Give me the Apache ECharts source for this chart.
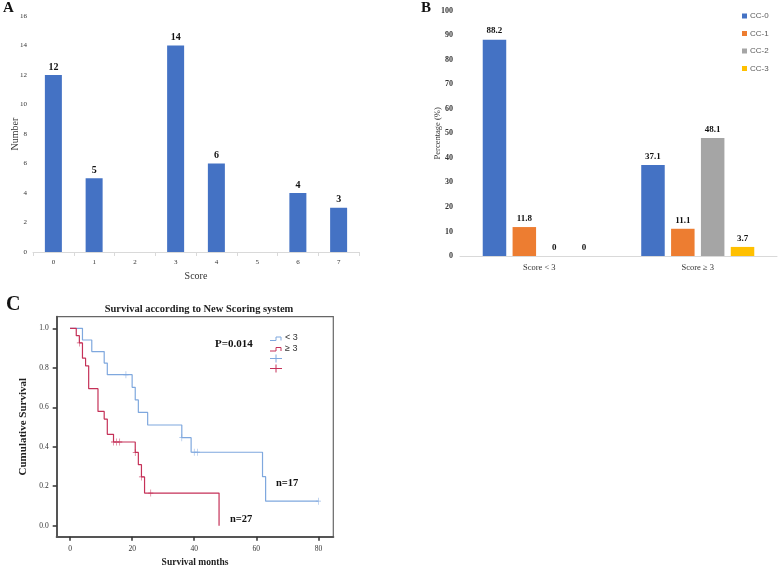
<!DOCTYPE html>
<html><head><meta charset="utf-8">
<script src="https://cdn.jsdelivr.net/npm/echarts@6/dist/echarts.min.js"></script>
<style>html,body{margin:0;padding:0;background:#fff}#c{width:778px;height:569px}</style>
</head><body><div id="c"></div>
<script>
// Panel A
var scoreCats = ['0','1','2','3','4','5','6','7'];
var scoreCounts = [12,5,0,14,6,0,4,3];
var aYTicks = [0,2,4,6,8,10,12,14,16];
// Panel B
var groupCats = ['Score < 3','Score \u2265 3'];
var cc0 = [88.2,37.1];
var cc1 = [11.8,11.1];
var cc2 = [0,48.1];
var cc3 = [0,3.7];
var ccNames = ['CC-0','CC-1','CC-2','CC-3'];
// Panel C (Kaplan-Meier)
var lowTimes = [0,4,7,11,12,20,21,22,25,36,39,62,63,80];
var lowSurv  = [1,0.941,0.882,0.824,0.765,0.701,0.637,0.574,0.510,0.446,0.372,0.248,0.124,0.124];
var lowCensT = [18,36,40,41,80];
var lowCensS = [0.765,0.446,0.372,0.372,0.124];
var highTimes = [0,2,3,4,5,6,9,11,12,14,21,22,23,24,48];
var highSurv  = [1,0.963,0.926,0.849,0.810,0.694,0.579,0.540,0.463,0.424,0.371,0.309,0.247,0.165,0];
var highCensT = [3,14,15,16,21,23,26];
var highCensS = [0.926,0.424,0.424,0.424,0.371,0.247,0.165];
var cXTicks = [0,20,40,60,80];
var cYTicks = [0,0.2,0.4,0.6,0.8,1.0];

function zip(a,b){return a.map(function(v,i){return [v,b[i]];});}
var serif = 'Liberation Serif';
var blueC = '#7fa8de', redC = '#c53158';
var plusPath = 'path://M-0.12,-1 L0.12,-1 L0.12,1 L-0.12,1 Z M-1,-0.12 L1,-0.12 L1,0.12 L-1,0.12 Z';

var chart = echarts.init(document.getElementById('c'));
var barColors = ['#4472C4','#ED7D31','#A5A5A5','#FFC000'];
var bSeries = [cc0,cc1,cc2,cc3].map(function(d,i){
  return {name: ccNames[i], type:'bar', xAxisIndex:1, yAxisIndex:1, data:d,
    barWidth:23.5, barGap:'27%', itemStyle:{color:barColors[i]},
    label:{show:true, position:'top', distance:4, fontFamily:serif, fontWeight:'bold', fontSize:9, color:'#111'}};
});

chart.setOption({
  animation:false,
  backgroundColor:'#fff',
  textStyle:{fontFamily:serif},
  grid:[
    {left:33, top:16, width:326, height:236},
    {left:460, top:10.7, width:317, height:245.3},
    {left:56.7, top:316.7, width:276.6, height:220, show:true, borderColor:'#666', borderWidth:1.2, backgroundColor:'transparent'}
  ],
  title:{text:'Survival according to New Scoring system', left:194, top:299, textAlign:'center',
    textStyle:{fontFamily:serif, fontWeight:'bold', fontSize:10.5, color:'#222'}},
  legend:{data:ccNames, orient:'vertical', left:737, top:7, itemWidth:5, itemHeight:5, itemGap:9.5, icon:'rect',
    textStyle:{fontFamily:'Liberation Sans', fontSize:8, color:'#595959', padding:[0,0,0,-2]}},
  xAxis:[
    {type:'category', gridIndex:0, data:scoreCats,
      axisLine:{lineStyle:{color:'#d9d9d9'}}, axisTick:{show:true, length:4, lineStyle:{color:'#d9d9d9'}},
      axisLabel:{fontSize:7, color:'#333', margin:7, fontFamily:serif},
      name:'Score', nameLocation:'middle', nameGap:19, nameMoveOverlap:false, nameTextStyle:{fontSize:10, color:'#333', fontFamily:serif}},
    {type:'category', gridIndex:1, data:groupCats,
      axisLine:{lineStyle:{color:'#d9d9d9'}}, axisTick:{show:false},
      axisLabel:{fontSize:8.5, color:'#333', margin:7, fontFamily:serif}},
    {type:'value', gridIndex:2, min:-4.3, max:84.8,
      axisLine:{show:true, onZero:false, lineStyle:{color:'#555', width:2}},
      axisTick:{show:true, length:4, customValues:cXTicks, lineStyle:{color:'#333', width:1.5}},
      axisLabel:{customValues:cXTicks, fontSize:7.5, color:'#333', margin:8, fontFamily:serif},
      splitLine:{show:false},
      name:'Survival months', nameLocation:'middle', nameGap:21, nameMoveOverlap:false,
      nameTextStyle:{fontSize:9.5, fontWeight:'bold', color:'#222', fontFamily:serif}}
  ],
  yAxis:[
    {type:'value', gridIndex:0, min:0, max:16, interval:2,
      axisLine:{show:false}, axisTick:{show:false}, splitLine:{show:false},
      axisLabel:{fontSize:7, color:'#333', margin:6, fontFamily:serif},
      name:'Number', nameLocation:'middle', nameGap:12.5, nameMoveOverlap:false, nameTextStyle:{fontSize:10, color:'#333', fontFamily:serif}},
    {type:'value', gridIndex:1, min:0, max:100, interval:10,
      axisLine:{show:false}, axisTick:{show:false}, splitLine:{show:false},
      axisLabel:{fontSize:8, fontWeight:'bold', color:'#333', margin:7, fontFamily:serif},
      name:'Percentage (%)', nameLocation:'middle', nameGap:18, nameMoveOverlap:false, nameTextStyle:{fontSize:8.5, color:'#333', fontFamily:serif}},
    {type:'value', gridIndex:2, min:-0.056, max:1.059,
      axisLine:{show:true, onZero:false, lineStyle:{color:'#555', width:2}},
      axisTick:{show:true, length:4, customValues:cYTicks, lineStyle:{color:'#333', width:1.5}},
      axisLabel:{customValues:cYTicks, fontSize:7.5, color:'#333', margin:8, fontFamily:serif,
        formatter:function(v){return v.toFixed(1);}},
      splitLine:{show:false},
      name:'Cumulative Survival', nameLocation:'middle', nameGap:28, nameMoveOverlap:false,
      nameTextStyle:{fontSize:11, fontWeight:'bold', color:'#222', fontFamily:serif}}
  ],
  series:[
    {type:'bar', xAxisIndex:0, yAxisIndex:0, data:scoreCounts, barWidth:17,
      itemStyle:{color:'#4472C4'},
      label:{show:true, position:'top', distance:3, fontFamily:serif, fontWeight:'bold', fontSize:10, color:'#111',
        formatter:function(p){return p.value===0?'':p.value;}}}
  ].concat(bSeries).concat([
    {name:'low', type:'line', step:'end', xAxisIndex:2, yAxisIndex:2, data:zip(lowTimes,lowSurv),
      showSymbol:false, lineStyle:{color:blueC, width:1.2}, z:3},
    {name:'high', type:'line', step:'end', xAxisIndex:2, yAxisIndex:2, data:zip(highTimes,highSurv),
      showSymbol:false, lineStyle:{color:redC, width:1.2}, z:4},
    {name:'lowC', type:'scatter', xAxisIndex:2, yAxisIndex:2, data:zip(lowCensT,lowCensS),
      symbol:plusPath, symbolSize:[5,7], itemStyle:{color:blueC}, z:5},
    {name:'highC', type:'scatter', xAxisIndex:2, yAxisIndex:2, data:zip(highCensT,highCensS),
      symbol:plusPath, symbolSize:[5,7], itemStyle:{color:redC}, z:6}
  ]),
  graphic:[
    {type:'text', left:3, top:1, style:{text:'A', fontFamily:serif, fontWeight:'bold', fontSize:15, fill:'#111'}},
    {type:'text', left:421, top:1, style:{text:'B', fontFamily:serif, fontWeight:'bold', fontSize:15, fill:'#111'}},
    {type:'text', left:6, top:295, style:{text:'C', fontFamily:serif, fontWeight:'bold', fontSize:20, fill:'#111'}},
    {type:'text', left:215, top:339, style:{text:'P=0.014', fontFamily:serif, fontWeight:'bold', fontSize:11, fill:'#111'}},
    {type:'text', left:276, top:478, style:{text:'n=17', fontFamily:serif, fontWeight:'bold', fontSize:10.5, fill:'#111'}},
    {type:'text', left:230, top:514, style:{text:'n=27', fontFamily:serif, fontWeight:'bold', fontSize:10.5, fill:'#111'}},
    {type:'polyline', shape:{points:[[270,340.5],[276,340.5],[276,337],[281,337],[281,340.5]]}, style:{stroke:blueC, fill:null, lineWidth:1}},
    {type:'text', left:285, top:333, style:{text:'< 3', fontFamily:'Liberation Sans', fontSize:9, fill:'#333'}},
    {type:'polyline', shape:{points:[[270,351],[276,351],[276,347.5],[281,347.5],[281,351]]}, style:{stroke:redC, fill:null, lineWidth:1}},
    {type:'text', left:285, top:344, style:{text:'\u2265 3', fontFamily:'Liberation Sans', fontSize:9, fill:'#333'}},
    {type:'line', shape:{x1:270, y1:358.5, x2:282, y2:358.5}, style:{stroke:blueC, lineWidth:1}},
    {type:'line', shape:{x1:276, y1:354.5, x2:276, y2:362.5}, style:{stroke:blueC, lineWidth:1}},
    {type:'line', shape:{x1:270, y1:368.5, x2:282, y2:368.5}, style:{stroke:redC, lineWidth:1}},
    {type:'line', shape:{x1:276, y1:364.5, x2:276, y2:372.5}, style:{stroke:redC, lineWidth:1}}
  ]
});
</script></body></html>
